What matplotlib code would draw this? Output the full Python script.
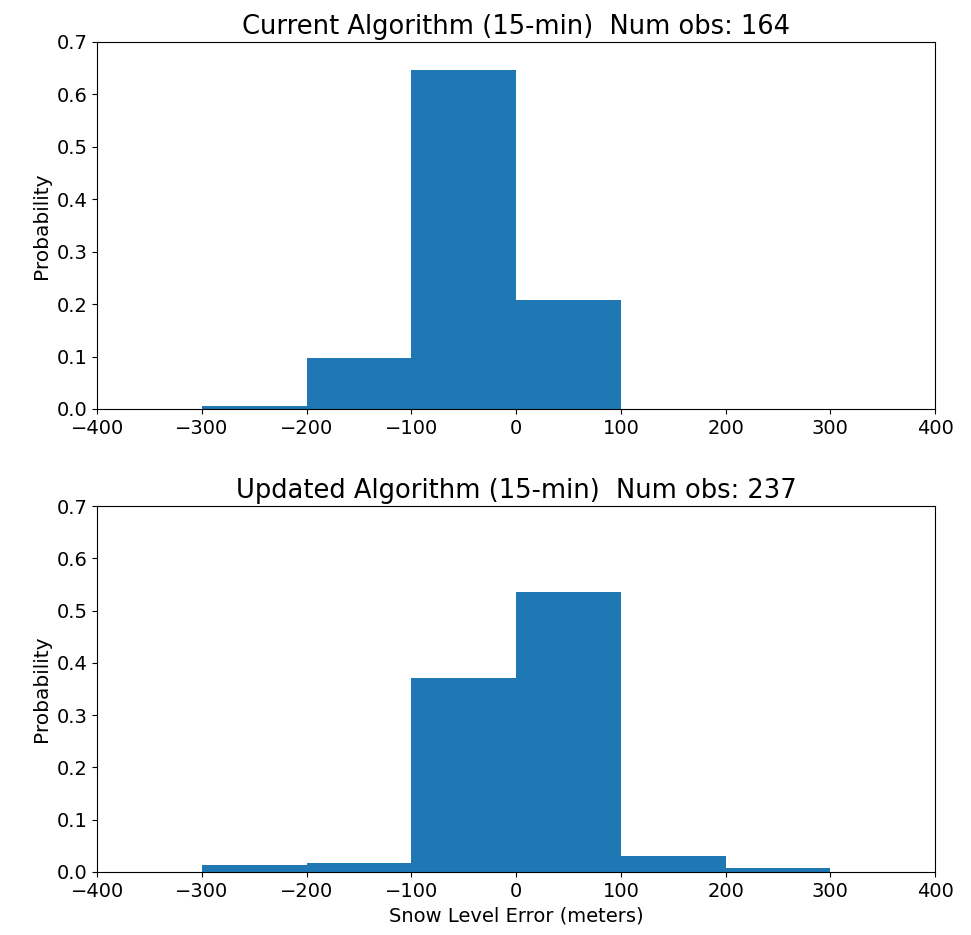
import numpy as np
import matplotlib.pyplot as plt

# bin edges (meters) and probability per bin
bin_edges = [-300, -200, -100, 0, 100, 200, 300]
current_prob = [0.006, 0.098, 0.646, 0.207, 0.0, 0.0]
updated_prob = [0.013, 0.017, 0.371, 0.536, 0.030, 0.008]
current_nobs = 164
updated_nobs = 237

fig = plt.figure(figsize=(9.71, 9.35), dpi=100)
ax1 = fig.add_axes([0.100, 0.5626, 0.863, 0.3925])
ax2 = fig.add_axes([0.100, 0.0674, 0.863, 0.3914])

edges = np.array(bin_edges)
for ax, prob, name, nobs in [(ax1, current_prob, 'Current', current_nobs),
                             (ax2, updated_prob, 'Updated', updated_nobs)]:
    ax.hist(edges[:-1], bins=edges, weights=prob, color='#1f77b4')
    ax.set_xlim(-400, 400)
    ax.set_ylim(0, 0.7)
    ax.set_yticks(np.arange(0, 0.71, 0.1))
    ax.set_ylabel('Probability', fontsize=14.5)
    ax.set_title(name + ' Algorithm (15-min)  Num obs: ' + str(nobs), fontsize=18.5, pad=6)
    ax.tick_params(labelsize=14)

ax2.set_xlabel('Snow Level Error (meters)', fontsize=14)

fig.savefig('out.png', dpi=100)
